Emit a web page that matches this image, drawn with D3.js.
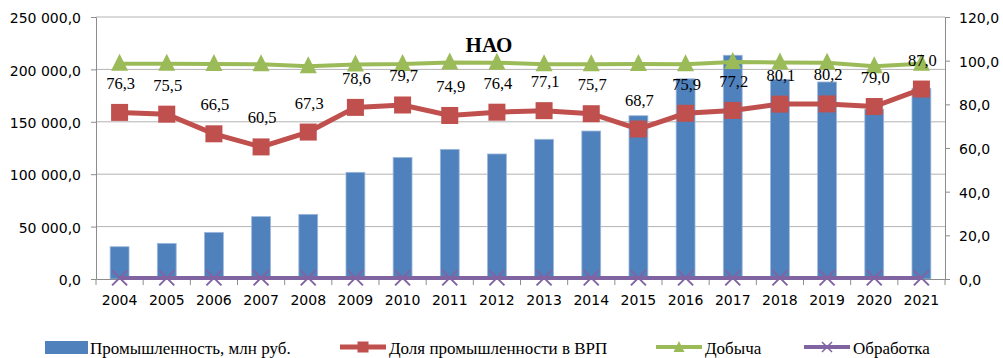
<!DOCTYPE html>
<html>
<head>
<meta charset="utf-8">
<script src="https://cdn.jsdelivr.net/npm/d3@7/dist/d3.min.js"></script>
<style>
  body { margin: 0; background: #fff; }
  svg { display: block; }
</style>
</head>
<body>
<svg id="chart" width="1003" height="358"></svg>
<script>
// Years on the category axis
const years = ["2004","2005","2006","2007","2008","2009","2010","2011","2012",
               "2013","2014","2015","2016","2017","2018","2019","2020","2021"];

// Industrial output, mln rubles (left axis, bars)
const industry = [30800, 34000, 44500, 59500, 61700, 101800, 116000, 123700, 119300,
                  133300, 141200, 155800, 191000, 213500, 190500, 188000, 162000, 182000];

// Share of industry in GRP, % (right axis, labelled)
const shareGRP = [76.3, 75.5, 66.5, 60.5, 67.3, 78.6, 79.7, 74.9, 76.4,
                  77.1, 75.7, 68.7, 75.9, 77.2, 80.1, 80.2, 79.0, 87.0];

// Mining share, % (right axis)
const mining = [98.6, 98.6, 98.5, 98.4, 97.5, 98.3, 98.5, 99.2, 99.1,
                98.4, 98.4, 98.5, 98.4, 99.4, 99.2, 99.0, 97.4, 98.6];

// Manufacturing share, % (right axis)
const manufacturing = [0.5, 0.5, 0.5, 0.5, 0.5, 0.5, 0.5, 0.5, 0.5,
                       0.5, 0.5, 0.5, 0.5, 0.5, 0.5, 0.5, 0.5, 0.5];

const leftTicks = [0, 50000, 100000, 150000, 200000, 250000];
const rightTicks = [0, 20, 40, 60, 80, 100, 120];

const seriesNames = ["Промышленность, млн руб.", "Доля промышленности в ВРП", "Добыча", "Обработка"];
const titleText = "НАО";

const colors = { bar: "#4F81BD", red: "#C0504D", green: "#9BBB59", purple: "#8064A2" };

const svg = d3.select("#chart");
const plot = { left: 96, right: 945, top: 17, bottom: 279 };

const x = d3.scaleBand().domain(years).range([plot.left, plot.right]);
const yL = d3.scaleLinear().domain([0, 250000]).range([plot.bottom, plot.top]);
const yR = d3.scaleLinear().domain([0, 120]).range([plot.bottom, plot.top]);

const ru = d3.formatLocale({ decimal: ",", thousands: " ", grouping: [3], currency: ["", ""] });
const fmtAxis = ru.format(",.1f");
const fmtLabel = ru.format(".1f");

const sans = "'DejaVu Sans', Verdana, sans-serif";
const serif = "'Liberation Serif', 'Times New Roman', serif";
const gridColor = "#b3b3b3";
const axisColor = "#8c8c8c";

// Horizontal gridlines
svg.append("g")
  .selectAll("line")
  .data(leftTicks.filter(d => d > 0))
  .join("line")
  .attr("x1", plot.left).attr("x2", plot.right)
  .attr("y1", d => yL(d)).attr("y2", d => yL(d))
  .attr("stroke", gridColor).attr("stroke-width", 1);

// Bars
const barW = x.bandwidth() * 0.4;
svg.append("g")
  .selectAll("rect")
  .data(years.map((y, i) => ({ y, v: industry[i] })))
  .join("rect")
  .attr("x", d => x(d.y) + x.bandwidth() / 2 - barW / 2)
  .attr("width", barW)
  .attr("y", d => yL(d.v))
  .attr("height", d => yL(0) - yL(d.v))
  .attr("fill", colors.bar)
  .attr("stroke", "#9fb8da")
  .attr("stroke-width", 0.8);

// Left axis
const axL = svg.append("g")
  .attr("transform", `translate(${plot.left},0)`)
  .call(d3.axisLeft(yL).tickValues(leftTicks).tickFormat(fmtAxis).tickSizeInner(5).tickSizeOuter(0).tickPadding(10));

// Right axis
const axR = svg.append("g")
  .attr("transform", `translate(${plot.right},0)`)
  .call(d3.axisRight(yR).tickValues(rightTicks).tickFormat(fmtAxis).tickSizeInner(5).tickSizeOuter(0).tickPadding(9));

// Category axis: labels centred on bands, ticks on band edges
const axB = svg.append("g")
  .attr("transform", `translate(0,${plot.bottom})`)
  .call(d3.axisBottom(x).tickSize(0).tickPadding(16));

svg.append("g")
  .selectAll("line")
  .data(years.map(y => x(y)).concat([x(years[years.length - 1]) + x.bandwidth()]))
  .join("line")
  .attr("x1", d => d).attr("x2", d => d)
  .attr("y1", plot.bottom).attr("y2", plot.bottom + 6)
  .attr("stroke", axisColor).attr("stroke-width", 1);

[axL, axR, axB].forEach(g => {
  g.selectAll(".domain").attr("stroke", axisColor).attr("stroke-width", 1);
  g.selectAll(".tick line").attr("stroke", axisColor);
  g.selectAll("text").attr("fill", "#000").style("font-family", sans).style("font-size", "14px");
});
axL.selectAll("text").attr("dy", "0.4em");
axR.selectAll("text").attr("dy", "0.4em");

const cx = d => x(d) + x.bandwidth() / 2;

// Manufacturing line with X markers
const lineR = d3.line().x(d => cx(d.y)).y(d => yR(d.v));
const manData = years.map((y, i) => ({ y, v: manufacturing[i] }));
svg.append("path").datum(manData)
  .attr("d", lineR).attr("fill", "none")
  .attr("stroke", colors.purple).attr("stroke-width", 4);
svg.append("g").selectAll("path")
  .data(manData).join("path")
  .attr("d", d => {
    const px = cx(d.y), py = yR(d.v), s = 7.5;
    return `M${px - s},${py - s}L${px + s},${py + s}M${px - s},${py + s}L${px + s},${py - s}`;
  })
  .attr("stroke", colors.purple).attr("stroke-width", 2).attr("fill", "none");

// Mining line with triangle markers
const minData = years.map((y, i) => ({ y, v: mining[i] }));
svg.append("path").datum(minData)
  .attr("d", lineR).attr("fill", "none")
  .attr("stroke", colors.green).attr("stroke-width", 4);
svg.append("g").selectAll("path")
  .data(minData).join("path")
  .attr("d", d => {
    const px = cx(d.y), py = yR(d.v);
    return `M${px},${py - 10}L${px + 8.5},${py + 7}L${px - 8.5},${py + 7}Z`;
  })
  .attr("fill", colors.green);

// Share of industry in GRP with square markers
const shareData = years.map((y, i) => ({ y, v: shareGRP[i] }));
svg.append("path").datum(shareData)
  .attr("d", lineR).attr("fill", "none")
  .attr("stroke", colors.red).attr("stroke-width", 5);
svg.append("g").selectAll("rect")
  .data(shareData).join("rect")
  .attr("x", d => cx(d.y) - 8.5).attr("y", d => yR(d.v) - 8.5)
  .attr("width", 17).attr("height", 17)
  .attr("fill", colors.red);

// Value labels above the share markers
svg.append("g").selectAll("text")
  .data(shareData).join("text")
  .attr("x", d => cx(d.y) + 1)
  .attr("y", d => yR(d.v) - 23.5)
  .attr("text-anchor", "middle")
  .style("font-family", serif).style("font-size", "16.5px")
  .attr("fill", "#000")
  .text(d => fmtLabel(d.v));

// Title
svg.append("text")
  .attr("x", 489).attr("y", 52)
  .attr("text-anchor", "middle")
  .style("font-family", serif).style("font-size", "21px").style("font-weight", "bold")
  .text(titleText);

// Legend
const legendX = [45, 340, 656, 804];
const lg = svg.append("g");
seriesNames.forEach((name, i) => {
  const g = lg.append("g").attr("transform", `translate(${legendX[i]},0)`);
  const cy = 347;
  if (i === 0) {
    g.append("rect").attr("x", 0).attr("y", 341).attr("width", 43).attr("height", 13).attr("fill", colors.bar);
  } else {
    const col = [null, colors.red, colors.green, colors.purple][i];
    g.append("line").attr("x1", 0).attr("x2", 46).attr("y1", cy).attr("y2", cy)
      .attr("stroke", col).attr("stroke-width", i === 1 ? 5 : 4);
    if (i === 1) {
      g.append("rect").attr("x", 17.5).attr("y", cy - 5.5).attr("width", 11).attr("height", 11).attr("fill", col);
    } else if (i === 2) {
      g.append("path").attr("d", `M23,${cy - 6}L28.5,${cy + 5}L17.5,${cy + 5}Z`).attr("fill", col);
    } else {
      g.append("path").attr("d", `M18,${cy - 5}L28,${cy + 5}M18,${cy + 5}L28,${cy - 5}`)
        .attr("stroke", col).attr("stroke-width", 1.5);
    }
  }
  g.append("text")
    .attr("x", i === 0 ? 45 : 49).attr("y", 354)
    .style("font-family", serif).style("font-size", "17px")
    .attr("fill", "#000")
    .text(name);
});
</script>
</body>
</html>
